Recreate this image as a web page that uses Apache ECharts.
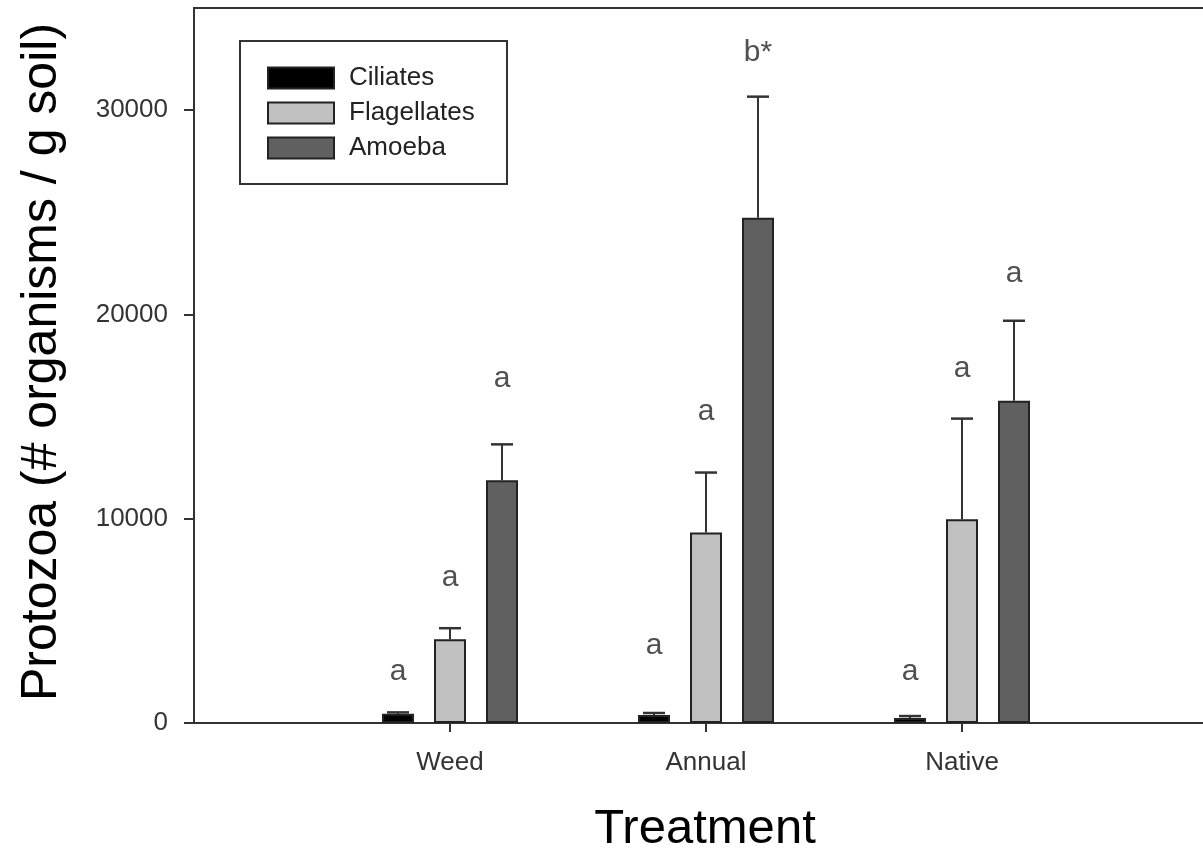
<!DOCTYPE html>
<html>
<head>
<meta charset="utf-8">
<script src="https://cdn.jsdelivr.net/npm/echarts@6/dist/echarts.min.js"></script>
<style>html,body{margin:0;padding:0;background:#fff}#c{width:1203px;height:855px}</style>
</head>
<body>
<div id="c"></div>
<script>
const categories = ['Weed', 'Annual', 'Native'];
const seriesNames = ['Ciliates', 'Flagellates', 'Amoeba'];
const ciliates = [450, 390, 250];
const ciliatesErr = [520, 490, 340];
const flagellates = [4100, 9330, 9970];
const flagellatesErr = [4640, 12260, 14900];
const amoeba = [11880, 24730, 15780];
const amoebaErr = [13640, 30660, 19690];
const ciliatesLetters = ['a', 'a', 'a'];
const flagellatesLetters = ['a', 'a', 'a'];
const amoebaLetters = ['a', 'b*', 'a'];
const ciliatesLetterAt = [2490, 3760, 2490];
const flagellatesLetterAt = [7135, 15250, 17350];
const amoebaLetterAt = [16860, 32790, 21990];
const yTicks = [0, 10000, 20000, 30000];

const axisCats = [''].concat(categories).concat([' ']);
const colors = ['#000000', '#c0c0c0', '#606060'];
const means = [ciliates, flagellates, amoeba];
const errs = [ciliatesErr, flagellatesErr, amoebaErr];
const letters = [ciliatesLetters, flagellatesLetters, amoebaLetters];
const letterAt = [ciliatesLetterAt, flagellatesLetterAt, amoebaLetterAt];
const BAR_W = 32, STEP = 52;

const series = [];
seriesNames.forEach((name, s) => {
  series.push({
    name: name, type: 'bar', barWidth: BAR_W, barGap: ((STEP - BAR_W) / BAR_W * 100) + '%',
    itemStyle: { color: colors[s], borderColor: '#222', borderWidth: 2 },
    data: [null].concat(means[s]).concat([null]),
    z: 2
  });
});
seriesNames.forEach((name, s) => {
  const offset = (s - 1) * STEP;
  series.push({
    name: name + ' err', type: 'custom', z: 1,
    data: means[s].map((v, i) => [i + 1, v, errs[s][i], letterAt[s][i]]),
    encode: { x: 0, y: [1, 2, 3] },
    renderItem: function (params, api) {
      const idx = api.value(0);
      const p0 = api.coord([idx, api.value(1)]);
      const p1 = api.coord([idx, api.value(2)]);
      const pl = api.coord([idx, api.value(3)]);
      const x = p0[0] + offset;
      return {
        type: 'group',
        children: [
          { type: 'line', shape: { x1: x, y1: p0[1], x2: x, y2: p1[1] }, style: { stroke: '#333', lineWidth: 2 } },
          { type: 'line', shape: { x1: x - 11, y1: p1[1], x2: x + 11, y2: p1[1] }, style: { stroke: '#333', lineWidth: 2.5 } },
          { type: 'text', x: x, y: pl[1], style: { text: letters[s][params.dataIndex], fill: '#505050', font: '30px "Liberation Sans", Arial, sans-serif', align: 'center', verticalAlign: 'middle' } }
        ]
      };
    }
  });
});

const chart = echarts.init(document.getElementById('c'), null, { renderer: 'canvas' });
chart.setOption({
  backgroundColor: '#fff',
  animation: false,
  grid: { left: 194, top: 8, width: 1024, height: 715, outerBoundsMode: 'none', containLabel: false, show: true, borderColor: '#333', borderWidth: 2, backgroundColor: 'transparent' },
  legend: {
    data: seriesNames, orient: 'vertical', left: 262, top: 60,
    icon: 'rect',
    itemWidth: 66, itemHeight: 21, itemGap: 9,
    textStyle: { fontSize: 26, color: '#222', fontFamily: '"Liberation Sans", Arial, sans-serif', padding: [0, 0, 0, 10] }
  },
  graphic: [
    { type: 'rect', shape: { x: 240, y: 41, width: 267, height: 143 }, style: { fill: 'none', stroke: '#333', lineWidth: 2 }, z: 0 },
    { type: 'text', x: 42, y: 362, rotation: Math.PI / 2, style: { text: 'Protozoa (# organisms / g soil)', fill: '#000', font: '50px "Liberation Sans", Arial, sans-serif', align: 'center', verticalAlign: 'middle' } },
    { type: 'text', x: 705, y: 829, style: { text: 'Treatment', fill: '#000', font: '49px "Liberation Sans", Arial, sans-serif', align: 'center', verticalAlign: 'middle' } }
  ],
  xAxis: {
    type: 'category', data: axisCats, boundaryGap: false,
    axisLine: { lineStyle: { color: '#333', width: 2 } },
    axisTick: { show: true, length: 9, lineStyle: { color: '#333', width: 2 }, interval: function (i) { return i >= 1 && i <= categories.length; } },
    axisLabel: { fontSize: 26, color: '#333', fontFamily: '"Liberation Sans", Arial, sans-serif', margin: 27, interval: 0 },
    splitLine: { show: false }
  },
  yAxis: {
    type: 'value', min: 0, max: 35000,
    axisLine: { show: true, lineStyle: { color: '#333', width: 2 } },
    axisTick: { show: true, length: 10, lineStyle: { color: '#333', width: 2 }, customValues: yTicks },
    axisLabel: { fontSize: 26, color: '#333', fontFamily: '"Liberation Sans", Arial, sans-serif', margin: 26, customValues: yTicks, formatter: function (v) { return String(v); } },
    splitLine: { show: false }
  },
  series: series
});
</script>
</body>
</html>
